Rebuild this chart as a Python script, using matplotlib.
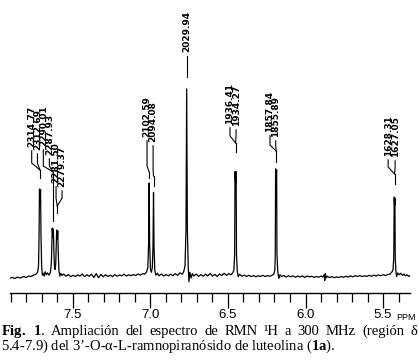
import matplotlib.pyplot as plt
from matplotlib.ticker import MultipleLocator

plt.rcParams['mathtext.fontset'] = 'custom'
plt.rcParams['mathtext.rm'] = 'Liberation Serif'
plt.rcParams['mathtext.bf'] = 'Liberation Serif:bold'
plt.rcParams['mathtext.it'] = 'Liberation Serif:italic'

# spectrum trace (ppm, relative intensity, tallest peak = 100)
shift_ppm = [7.906, 7.89, 7.875, 7.86, 7.84, 7.82, 7.80, 7.785, 7.77, 7.755, 7.74, 7.728,
             7.722, 7.7185, 7.7159, 7.7125, 7.7090, 7.706, 7.702, 7.697, 7.692, 7.686,
             7.679, 7.672, 7.664, 7.655, 7.645, 7.639, 7.6355, 7.6334, 7.630, 7.6264,
             7.623, 7.619, 7.6155, 7.611, 7.6075, 7.6050, 7.6015, 7.5979, 7.5945, 7.590,
             7.584, 7.578, 7.57, 7.56, 7.545, 7.53, 7.515, 7.50, 7.485, 7.47, 7.455, 7.44,
             7.425, 7.41, 7.395, 7.38, 7.365, 7.35, 7.335, 7.32, 7.305, 7.29, 7.275, 7.26,
             7.245, 7.23, 7.215, 7.20, 7.185, 7.17, 7.155, 7.14, 7.125, 7.11, 7.095, 7.08,
             7.065, 7.05, 7.035, 7.025, 7.017, 7.012, 7.0086, 7.0055, 7.000, 6.994, 6.988,
             6.9835, 6.9803, 6.977, 6.972, 6.965, 6.955, 6.945, 6.93, 6.915, 6.90, 6.885,
             6.87, 6.855, 6.84, 6.825, 6.81, 6.795, 6.785, 6.777, 6.771, 6.7665, 6.762,
             6.756, 6.752, 6.746, 6.738, 6.73, 6.72, 6.705, 6.69, 6.675, 6.66, 6.645, 6.63,
             6.615, 6.60, 6.585, 6.57, 6.555, 6.54, 6.525, 6.51, 6.495, 6.48, 6.47, 6.462,
             6.457, 6.4547, 6.451, 6.4476, 6.445, 6.44, 6.434, 6.425, 6.41, 6.395, 6.38,
             6.365, 6.35, 6.335, 6.32, 6.305, 6.29, 6.275, 6.26, 6.245, 6.23, 6.215, 6.205,
             6.198, 6.195, 6.1928, 6.1895, 6.1863, 6.184, 6.179, 6.172, 6.165, 6.155, 6.14,
             6.125, 6.11, 6.095, 6.08, 6.065, 6.05, 6.035, 6.02, 6.005, 5.99, 5.975, 5.96,
             5.945, 5.93, 5.915, 5.90, 5.89, 5.88, 5.876, 5.872, 5.867, 5.86, 5.845, 5.83,
             5.815, 5.80, 5.785, 5.77, 5.755, 5.74, 5.725, 5.71, 5.695, 5.68, 5.665, 5.65,
             5.635, 5.62, 5.605, 5.59, 5.575, 5.56, 5.545, 5.53, 5.515, 5.50, 5.485, 5.47,
             5.455, 5.445, 5.436, 5.431, 5.4277, 5.4256, 5.4235, 5.421, 5.416, 5.412, 5.405,
             5.395, 5.385, 5.375, 5.365, 5.355, 5.345, 5.335, 5.326]
intensity = [-0.6, -0.2, -0.8, -0.1, -0.5, 0.2, -0.2, 0.5, 0.3, 1.0, 1.4, 2.5,
             6, 22, 46.8, 40, 46.5, 22, 6, 1.0, 2.0, 0.5,
             2.8, 1.2, 2.2, 1.0, 2.5, 8, 20, 26, 21, 25.5,
             14, 5, 4, 7, 18, 25, 20, 24.5, 12, 3,
             0.5, 2, 0.8, 1.6, 0.4, 1.3, 0.2, 0.9, 0.3, 1.1, 0.5, 1.6,
             0.2, 1.2, 0.4, 1.5, -0.3, 1.8, -0.4, 1.4, 0.1, 1.2, 0.3, 1.0,
             0.2, 1.3, 0.4, 1.1, 0.6, 1.5, 0.5, 1.2, 0.7, 1.3, 0.8, 1.6,
             1.0, 1.8, 1.6, 2.8, 5, 18, 50, 18, 4, 2.5, 5,
             17, 45, 16, 3.5, 1.0, 2.0, 0.6, 1.6, 0.5, 1.3, 0.6,
             1.5, 0.7, 1.8, 0.9, 2.2, 1.5, 3.0, 6, 25, 100, 25,
             5, -2.5, 2.5, -0.5, 1.8, 0.5, 1.6, 0.3, 1.3, 0.4, 1.5, 0.6,
             1.9, 0.5, 1.4, 0.3, 1.6, 0.8, 2.0, 0.9, 1.8, 1.2, 2.2, 3.5,
             12, 56, 50, 56, 12, 3, 0.2, 1.5, 0.4, 1.0, 0.3,
             0.9, 0.2, 0.8, 0.1, 0.7, 0.3, 0.9, 0.2, 0.8, 0.4, 1.0, 1.5,
             3.5, 12, 57.5, 52, 57, 12, 3, -0.8, 1.2, 0.3, 0.8,
             0.0, 0.7, 0.1, 0.6, -0.1, 0.5, 0.0, 0.6, -0.2, 0.5, 0.1, 0.4,
             -0.2, 0.3, -0.1, 0.5, 0.0, 1.2, -1.8, 1.8, -0.5, 0.4, -0.3, 0.2,
             -0.4, 0.1, -0.3, 0.3, -0.2, 0.4, 0.0, 0.6, 0.1, 0.7, 0.3, 0.8,
             0.2, 0.7, 0.3, 0.9, 0.4, 1.0, 0.5, 1.1, 0.7, 1.2, 0.8, 1.3,
             1.5, 2.5, 3.5, 10, 42.5, 38, 42, 10, 2.0, 0.3, 2.2,
             1.2, 2.0, 0.8, 1.6, 0.6, 1.2, 0.4, 0.8]

# peak picking (Hz at 300 MHz), grouped the way the labels are drawn
peak_groups = [["2314.77", "2312.69"], ["2290.01", "2287.93"], ["2281.50", "2279.37"],
               ["2102.59"], ["2094.08"], ["2029.94"], ["1936.41", "1934.27"],
               ["1857.84", "1855.89"], ["1628.31", "1627.05"]]
spectrometer_mhz = 300.0

major_ticks = [7.5, 7.0, 6.5, 6.0, 5.5]

# first caption line is justified, so it is kept word by word
caption_words = [r"$\mathbf{Fig.}$", r"$\mathbf{1}$.", "Ampliación", "del", "espectro", "de",
                 "RMN", "¹H", "a", "300", "MHz", "(región", "δ"]
caption_2 = r"5.4-7.9) del 3’-O-α-L-ramnopiranósido de luteolina ($\mathbf{1a}$)."

# layout of the label columns: x in ppm, bottom of text in intensity units
label_x = [[7.766, 7.729], [7.691, 7.652], [7.609, 7.570], [7.022], [6.983], [6.764],
           [6.487, 6.448], [6.229, 6.192], [5.467, 5.422]]
label_y = [[68.6, 67.0], [69.1, 64.4], [49.5, 47.3], [73.9], [71.3], [119.1],
           [80.9, 79.8], [76.6, 73.9], [63.8, 63.3]]
# leader lines: bend, merge, end of stem
leader_y = [(60.6, 56.9, 52.7), (59.0, 56.0, 30.0), (42.0, 37.8, 34.0), (59.0, 55.9, 52.7),
            (56.9, 53.7, 48.4), (106.4, 106.4, 106.4), (75.0, 71.3, 66.5),
            (70.2, 67.0, 61.2), (58.5, 54.8, 49.5)]

fig = plt.figure(figsize=(4.19, 3.64), dpi=100)
ax = fig.add_axes([10/419, 1 - 293/364, 400/419, 293/364])

ax.plot(shift_ppm, intensity, color='black', lw=0.9)
ax.set_xlim(7.906, 5.326)
ax.set_ylim(-8.5, 147.3)

for group, xs, ys, (bend, merge, stem_end) in zip(peak_groups, label_x, label_y, leader_y):
    peak = sum(float(h) for h in group) / len(group) / spectrometer_mhz
    for text, lx, ly in zip(group, xs, ys):
        ax.annotate(text, xy=(lx, ly), xytext=(0, 0.5), textcoords='offset points',
                    rotation=90, ha='center', va='bottom', fontsize=6.5,
                    family='DejaVu Sans', weight='bold')
        ax.plot([lx, lx, peak], [ly - 1.5, bend, merge], color='black', lw=0.8)
    ax.plot([peak, peak], [merge, stem_end], color='black', lw=0.8)

for side in ['top', 'left', 'right']:
    ax.spines[side].set_visible(False)
ax.spines['bottom'].set_linewidth(1.0)
ax.set_yticks([])
ax.set_xticks(major_ticks, labels=[f"{t:.1f}" for t in major_ticks])
ax.xaxis.set_minor_locator(MultipleLocator(0.1))
ax.tick_params(axis='x', which='major', direction='out', length=10.5, width=0.9, pad=1,
               labelsize=9.5)
ax.tick_params(axis='x', which='minor', direction='out', length=6.3, width=0.9)
for lab in ax.get_xticklabels():
    lab.set_family('Liberation Sans')
ax.patch.set_visible(False)

fig.text(396/419, 1 - 318/364, "PPM", fontsize=6.5, va='center', ha='left',
         family='Liberation Sans')

# justified first line of the caption
renderer = fig.canvas.get_renderer()
words = [fig.text(0, 1 - 335/364, w, fontsize=10.5, family='Liberation Serif',
                  va='baseline', ha='left') for w in caption_words]
widths = [t.get_window_extent(renderer).width for t in words]
left, right = 1.0, 417.0
gap = (right - left - sum(widths)) / (len(words) - 1)
x = left
for t, w in zip(words, widths):
    t.set_x(x / 419)
    x += w + gap

fig.text(1/419, 1 - 349.5/364, caption_2, fontsize=10.5, family='Liberation Serif',
         va='baseline', ha='left')

fig.savefig('out.png', dpi=100)
